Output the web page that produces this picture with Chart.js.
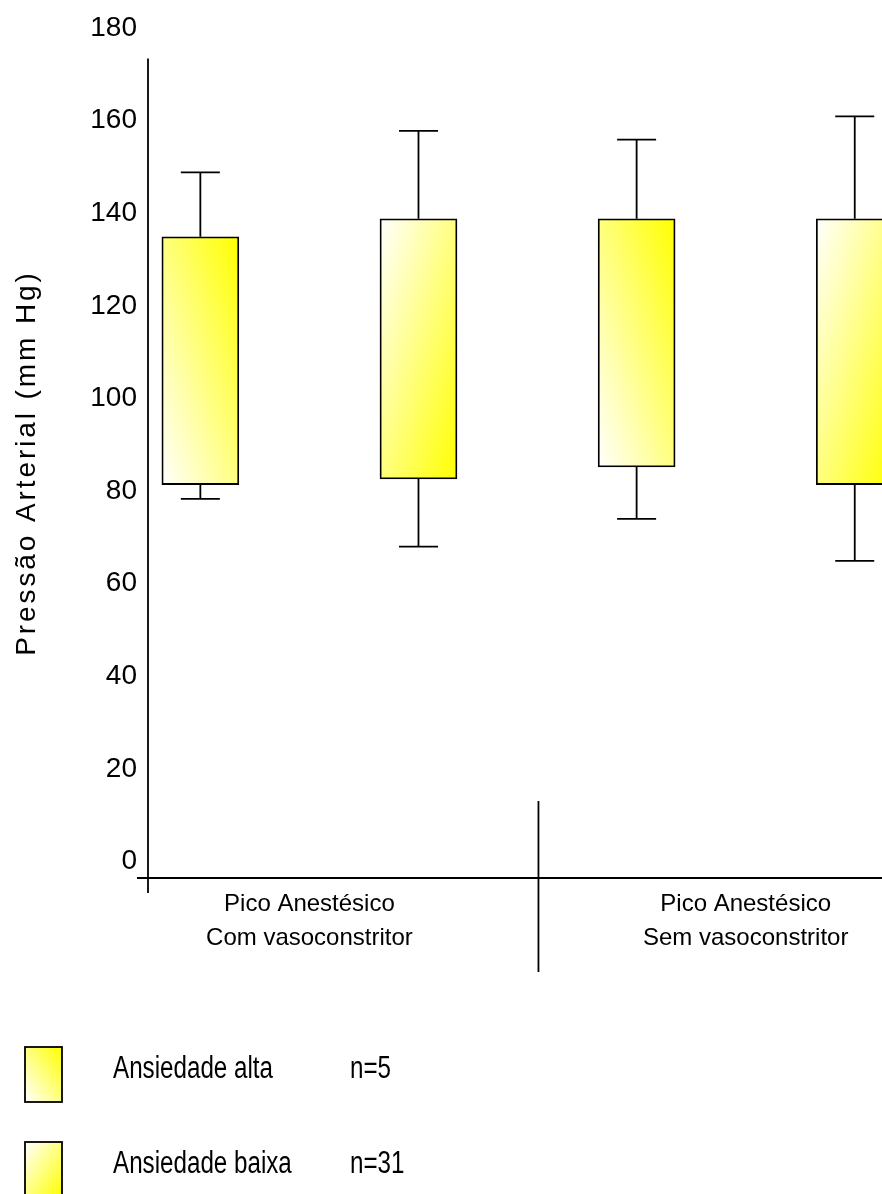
<!DOCTYPE html>
<html>
<head>
<meta charset="utf-8">
<script src="https://cdn.jsdelivr.net/npm/chart.js@4/dist/chart.umd.min.js"></script>
<style>
  html, body { margin: 0; padding: 0; overflow: hidden; background: #fff; }
</style>
</head>
<body>
<canvas id="myChart" width="942" height="1194"></canvas>
<script>
const groupLabels = [
  ['Pico Anestésico', 'Com vasoconstritor'],
  ['Pico Anestésico', 'Sem vasoconstritor'],
];
const groupPos = [1, 3];
const seriesNames = ['Ansiedade alta', 'Ansiedade baixa'];
const seriesN = ['n=5', 'n=31'];

// box = [Q1, Q3], whisker = [min, max]
const altaPos = [0.5, 2.5];
const altaBox = [[81.4, 134.9], [85.2, 138.8]];
const altaWhisker = [[78.3, 148.8], [74.0, 155.9]];

const baixaPos = [1.5, 3.5];
const baixaBox = [[82.6, 138.8], [81.4, 138.8]];
const baixaWhisker = [[68.0, 157.8], [64.9, 160.9]];

const yTicks = [0, 20, 40, 60, 80, 100, 120, 140, 160, 180];
const yTitle = 'Pressão Arterial (mm Hg)';

const FONT = '"Liberation Sans", Arial, sans-serif';
const BOX_W = 77;
const LINE_W = 1.8;

// white corner -> yellow corner, isolines along the other diagonal
function diagGradient(ctx, left, top, w, h, dir) {
  const k = 2 * w * h / (w * w + h * h);
  let g;
  if (dir === 'up') {
    g = ctx.createLinearGradient(left, top + h, left + h * k, top + h - w * k);
  } else {
    g = ctx.createLinearGradient(left, top, left + h * k, top + w * k);
  }
  g.addColorStop(0, '#ffffff');
  g.addColorStop(1, '#ffff00');
  return g;
}

function boxFill(dir) {
  return function (c) {
    if (c.type !== 'data' || !c.raw) return '#ffff80';
    const xs = c.chart.scales.x, ys = c.chart.scales.y;
    if (!xs || !ys) return '#ffff80';
    const cx = xs.getPixelForValue(c.raw.x);
    const top = ys.getPixelForValue(c.raw.y[1]);
    const bot = ys.getPixelForValue(c.raw.y[0]);
    if (![cx, top, bot].every(Number.isFinite) || bot - top <= 0) return '#ffff80';
    return diagGradient(c.chart.ctx, cx - BOX_W / 2, top, BOX_W, bot - top, dir);
  };
}

const series = [
  { name: seriesNames[0], n: seriesN[0], pos: altaPos, box: altaBox, whisker: altaWhisker, dir: 'up' },
  { name: seriesNames[1], n: seriesN[1], pos: baixaPos, box: baixaBox, whisker: baixaWhisker, dir: 'down' },
];

const frame = {
  id: 'frame',
  beforeDatasetsDraw(chart) {
    const { ctx, chartArea: a, scales: { x, y } } = chart;
    ctx.save();
    ctx.strokeStyle = '#000';
    ctx.lineWidth = LINE_W;
    ctx.beginPath();
    // axes
    ctx.moveTo(a.left, y.getPixelForValue(173.4));
    ctx.lineTo(a.left, a.bottom + 15);
    ctx.moveTo(a.left - 11, a.bottom);
    ctx.lineTo(a.right, a.bottom);
    // divider between the two groups
    const dx = x.getPixelForValue(2.05);
    ctx.moveTo(dx, a.bottom - 77);
    ctx.lineTo(dx, a.bottom + 94);
    // whiskers
    series.forEach(s => {
      s.pos.forEach((p, i) => {
        const cx = x.getPixelForValue(p);
        const lo = y.getPixelForValue(s.whisker[i][0]);
        const hi = y.getPixelForValue(s.whisker[i][1]);
        ctx.moveTo(cx, hi);
        ctx.lineTo(cx, y.getPixelForValue(s.box[i][1]));
        ctx.moveTo(cx, y.getPixelForValue(s.box[i][0]));
        ctx.lineTo(cx, lo);
        ctx.moveTo(cx - 19.5, hi);
        ctx.lineTo(cx + 19.5, hi);
        ctx.moveTo(cx - 19.5, lo);
        ctx.lineTo(cx + 19.5, lo);
      });
    });
    ctx.stroke();
    ctx.restore();
  },
  afterDraw(chart) {
    const { ctx, chartArea: a } = chart;
    // y axis title
    ctx.save();
    ctx.translate(27, (a.top + a.bottom) / 2 + 10);
    ctx.rotate(-Math.PI / 2);
    ctx.font = '28px ' + FONT;
    ctx.letterSpacing = '2.9px';
    ctx.fillStyle = '#000';
    ctx.textAlign = 'center';
    ctx.textBaseline = 'middle';
    ctx.fillText(yTitle, 0, 0);
    ctx.restore();

    // legend
    const rowTop = [1047, 1142];
    series.forEach((s, i) => {
      const t = rowTop[i];
      ctx.save();
      ctx.fillStyle = diagGradient(ctx, 25, t, 37, 55, s.dir);
      ctx.fillRect(25, t, 37, 55);
      ctx.strokeStyle = '#000';
      ctx.lineWidth = LINE_W;
      ctx.strokeRect(25, t, 37, 55);
      ctx.fillStyle = '#000';
      ctx.font = '31px ' + FONT;
      ctx.textBaseline = 'alphabetic';
      ctx.translate(113, t + 31);
      ctx.scale(0.78, 1);
      ctx.fillText(s.name, 0, 0);
      ctx.fillText(s.n, (350 - 113) / 0.78, 0);
      ctx.restore();
    });
  },
};

const ctx = document.getElementById('myChart').getContext('2d');
const myChart = new Chart(ctx, {
  type: 'bar',
  data: {
    datasets: series.map(s => ({
      label: s.name,
      data: s.pos.map((p, i) => ({ x: p, y: s.box[i] })),
      backgroundColor: boxFill(s.dir),
      borderColor: '#000',
      borderWidth: LINE_W,
      borderSkipped: false,
      barThickness: BOX_W,
      grouped: false,
    })),
  },
  options: {
    responsive: false,
    animation: false,
    layout: { padding: { top: 28, left: 0, right: 0, bottom: 0 } },
    plugins: {
      legend: { display: false },
      tooltip: { enabled: false },
    },
    scales: {
      x: {
        type: 'linear',
        offset: false,
        min: 0.26,
        max: 3.9,
        afterBuildTicks: s => { s.ticks = groupPos.map(v => ({ value: v })); },
        afterFit: s => { s.height = 316; },
        grid: { display: false, drawTicks: false },
        border: { display: false },
        ticks: {
          padding: 9,
          autoSkip: false,
          maxRotation: 0,
          color: '#000',
          font: { family: FONT, size: 24, lineHeight: 1.42 },
          callback: function (value, index) {
            return groupLabels[index];
          },
        },
      },
      y: {
        min: -3.57,
        max: 180,
        afterBuildTicks: s => { s.ticks = yTicks.map(v => ({ value: v })); },
        afterFit: s => { s.width = 148; },
        grid: { display: false, drawTicks: false },
        border: { display: false },
        ticks: {
          padding: 11,
          color: '#000',
          font: { family: FONT, size: 28 },
        },
      },
    },
  },
  plugins: [frame],
});
</script>
</body>
</html>
